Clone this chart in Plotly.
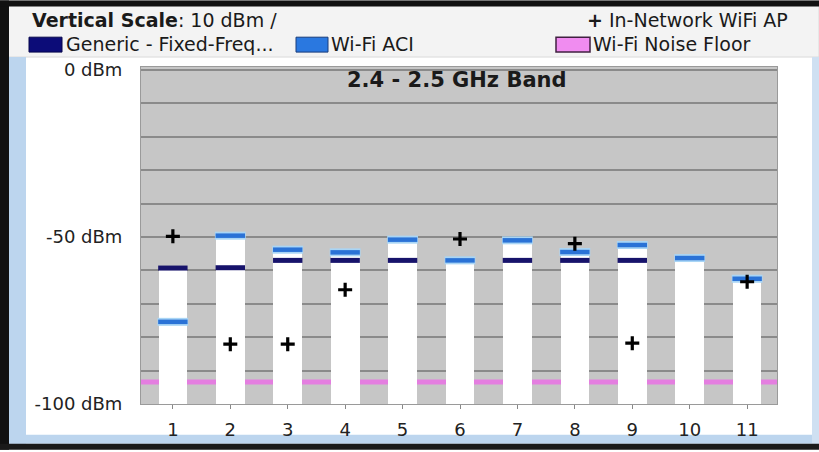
import plotly.graph_objects as go

# ---------------- data ----------------
channels = [1, 2, 3, 4, 5, 6, 7, 8, 9, 10, 11]
bar_top_dbm = [-59, -49.6, -53.8, -54.6, -50.8, -57, -51, -54.5, -52.4, -56.3, -62.5]
generic_fixed_dbm = [-59.3, -59.2, -57, -57, -57, None, -57, -57, -57, None, None]
wifi_aci_dbm = [-75.4, -49.6, -53.8, -54.6, -50.8, -57, -51, -54.5, -52.4, -56.3, -62.5]
in_network_ap_dbm = [-49.8, -82.1, -82.1, -65.8, None, -50.6, None, -52, -81.8, None, -63.4]
noise_floor_dbm = -93.4
y_tick_vals = [0, -10, -20, -30, -40, -50, -60, -70, -80, -90, -100]
y_tick_text = ["0 dBm", "", "", "", "", "-50 dBm", "", "", "", "", "-100 dBm"]
band_title = "2.4 - 2.5 GHz Band"

# ---------------- geometry ----------------
W, H = 819, 452
L, R, T, B = 141, 42, 67, 46
PW, PH = W - L - R, H - T - B

def px(x):
    return (x - L) / PW

def py(y):
    return (H - B - y) / PH

FONT = "DejaVu Sans"
NAVY = "#17136b"
BLUE = "#2a72d6"
GLOW = "#a9d5f5"
PINK = "#e47ee0"

fig = go.Figure()

# white channel bars from -100 dBm up to the top level
fig.add_trace(go.Bar(
    x=channels, y=[t + 100 for t in bar_top_dbm], base=-100,
    width=0.5, marker=dict(color="white", line=dict(width=0)),
    showlegend=False, hoverinfo="skip"))

# Wi-Fi ACI (glow + core)
fig.add_trace(go.Scatter(
    x=channels, y=wifi_aci_dbm, mode="markers", showlegend=False, hoverinfo="skip",
    marker=dict(symbol="line-ew", size=22, line=dict(color=GLOW, width=8))))
fig.add_trace(go.Scatter(
    x=channels, y=wifi_aci_dbm, mode="markers", showlegend=False,
    marker=dict(symbol="line-ew", size=21, line=dict(color=BLUE, width=4.5))))

# Generic fixed frequency
fig.add_trace(go.Scatter(
    x=channels, y=generic_fixed_dbm, mode="markers", showlegend=False,
    marker=dict(symbol="line-ew", size=21, line=dict(color=NAVY, width=5))))

# In-network Wi-Fi APs
fig.add_trace(go.Scatter(
    x=channels, y=in_network_ap_dbm, mode="markers", showlegend=False,
    marker=dict(symbol="cross-thin", size=10, line=dict(color="black", width=3.2))))

shapes = []
# noise floor (under bars, above grid)
shapes.append(dict(type="line", xref="paper", yref="y", x0=0, x1=1,
                   y0=noise_floor_dbm, y1=noise_floor_dbm, layer="between",
                   line=dict(color=PINK, width=5)))

def rect(x0, y0, x1, y1, fill, line=None, lw=0):
    return dict(type="rect", xref="paper", yref="paper",
                x0=px(x0), x1=px(x1), y0=py(y1), y1=py(y0),
                fillcolor=fill, layer="below",
                line=dict(color=line or fill, width=lw))

# window chrome
shapes.append(rect(0, 0, W, 57, "#f3f3f3", "#dadada", 1))
shapes.append(rect(9, 437, W, 446, "#bcd5ee"))
shapes.append(rect(9, 57, 26, 446, "#bcd5ee"))
shapes.append(rect(812, 57, W, 446, "#cfe0f2"))
shapes.append(rect(0, 0, 9, H, "#111111"))
shapes.append(rect(0, 446, W, H, "#1a1a1a"))
shapes.append(dict(type="line", xref="paper", yref="paper", x0=px(0), x1=px(W),
                   y0=py(3), y1=py(3), layer="above",
                   line=dict(color="#111111", width=6)))

# legend swatches
shapes.append(rect(29, 37, 62, 52, "#0c0c78", "#05054a", 1))
shapes.append(rect(296, 37, 328, 52, "#2a78e0", "#1a3d7a", 1))
shapes.append(rect(556, 37, 590, 52, "#f08cf0", "#402040", 1.5))

annotations = [
    dict(text="<b>Vertical Scale</b>: 10 dBm /", x=px(30), y=py(20),
         xanchor="left", yanchor="middle", font=dict(size=19)),
    dict(text="<b>+</b> In-Network WiFi AP", x=px(790), y=py(20),
         xanchor="right", yanchor="middle", font=dict(size=19)),
    dict(text="Generic - Fixed-Freq...", x=px(64), y=py(44),
         xanchor="left", yanchor="middle", font=dict(size=19)),
    dict(text="Wi-Fi ACI", x=px(329), y=py(44),
         xanchor="left", yanchor="middle", font=dict(size=19)),
    dict(text="Wi-Fi Noise Floor", x=px(591), y=py(44),
         xanchor="left", yanchor="middle", font=dict(size=19)),
    dict(text="<b>" + band_title + "</b>", x=px(457), y=py(80),
         xanchor="center", yanchor="middle", font=dict(size=21)),
]
for a in annotations:
    a.update(xref="paper", yref="paper", showarrow=False)
    a["font"].update(family=FONT, color="#1a1a1a")

fig.update_layout(
    width=W, height=H,
    margin=dict(l=L, r=R, t=T, b=B, pad=0),
    paper_bgcolor="white", plot_bgcolor="#c6c6c6",
    font=dict(family=FONT, size=15, color="#222222"),
    shapes=shapes, annotations=annotations,
    bargap=0,
    xaxis=dict(range=[0.445, 11.52], tickvals=channels, ticktext=[str(c) for c in channels],
               showgrid=False, zeroline=False, ticks="outside", ticklen=4,
               tickcolor="#888888", tickwidth=1, ticklabelstandoff=5,
               tickfont=dict(size=18, color="#222222"),
               showline=True, linecolor="#9a9a9a", linewidth=1, mirror=True),
    yaxis=dict(range=[-100, 0.9], tickvals=y_tick_vals, ticktext=y_tick_text,
               showgrid=True, gridcolor="#8a8a8a", gridwidth=2, zeroline=False,
               ticks="", ticklabelstandoff=14,
               tickfont=dict(size=18, color="#222222"),
               showline=True, linecolor="#9a9a9a", linewidth=1, mirror=True),
)

fig.write_html("out.html", config={"displayModeBar": False, "staticPlot": True},
               post_script="document.body.style.margin='0';document.body.style.overflow='hidden';")
